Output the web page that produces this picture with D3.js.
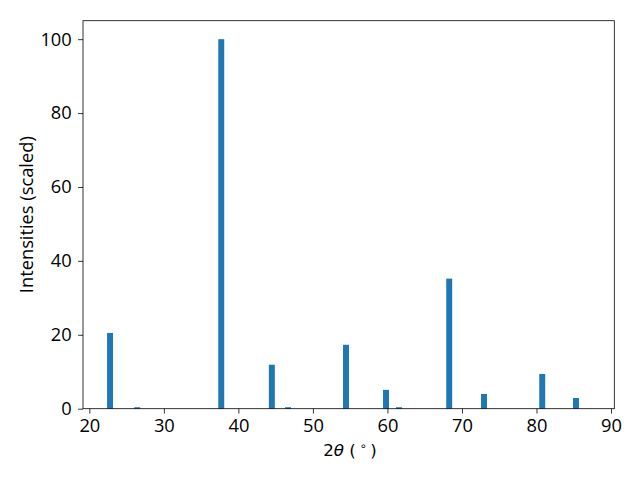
<!DOCTYPE html>
<html><head><meta charset="utf-8">
<script src="https://cdn.jsdelivr.net/npm/d3@7"></script>
<style>body{margin:0;background:#fff;}svg{display:block;font-family:"Open Sans",sans-serif;}</style>
</head><body>
<svg id="c" width="640" height="480"></svg>
<script>
const twoTheta = [22.78, 26.43, 37.70, 44.49, 46.66, 54.44, 59.81, 61.55, 68.29, 72.96, 80.77, 85.30];
const intensities = [20.5, 0.4, 100, 11.9, 0.4, 17.3, 5.1, 0.4, 35.2, 4.0, 9.4, 2.9];
const xTicks = [20, 30, 40, 50, 60, 70, 80, 90];
const yTicks = [0, 20, 40, 60, 80, 100];
const barWidth = 0.8;

const svg = d3.select("#c");
const L = 83, R = 614.3, T = 20.7, B = 408.7;
const x = d3.scaleLinear().domain([19.15, 90.44]).range([L, R]);
const y = d3.scaleLinear().domain([0, 105]).range([B, T]);
const fs = "18.3px";
const ff = "Open Sans";

svg.append("g").selectAll("rect").data(twoTheta).join("rect")
  .attr("x", (d) => x(d - barWidth / 2))
  .attr("width", (d) => x(d + barWidth / 2) - x(d - barWidth / 2))
  .attr("y", (d, i) => y(intensities[i]))
  .attr("height", (d, i) => y(0) - y(intensities[i]))
  .attr("fill", "#1f77b4");

const xa = svg.append("g").attr("transform", `translate(0,${B})`)
  .call(d3.axisBottom(x).tickValues(xTicks).tickSize(4.86).tickPadding(5).tickFormat(d3.format("d")));
const ya = svg.append("g").attr("transform", `translate(${L},0)`)
  .call(d3.axisLeft(y).tickValues(yTicks).tickSize(4.86).tickPadding(6.4).tickFormat(d3.format("d")));
[xa, ya].forEach(a => {
  a.attr("font-family", ff).attr("font-size", fs);
  a.select(".domain").remove();
  a.selectAll("line").attr("stroke", "#000").attr("stroke-width", 0.8);
  a.selectAll("text").attr("font-size", fs).attr("font-family", ff).attr("fill", "#000");
});

svg.append("rect").attr("x", L).attr("y", T).attr("width", R - L).attr("height", B - T)
  .attr("fill", "none").attr("stroke", "#000").attr("stroke-width", 0.8);

const xl = svg.append("text").attr("x", 350).attr("y", 456).attr("text-anchor", "middle")
  .attr("font-family", "DejaVu Sans").attr("font-size", "16.67px").attr("fill", "#000");
xl.append("tspan").text("2");
xl.append("tspan").attr("font-style", "italic").text("θ");
xl.append("tspan").text(" (");
xl.append("tspan").attr("font-size", "11.5px").attr("dy", -6).text(" ∘ ");
xl.append("tspan").attr("dy", 6).text(")");

svg.append("text").attr("transform", `translate(33,${(T + B) / 2}) rotate(-90)`)
  .attr("text-anchor", "middle").attr("font-family", ff).attr("font-size", fs).attr("fill", "#000")
  .text("Intensities (scaled)");
</script>
</body></html>
